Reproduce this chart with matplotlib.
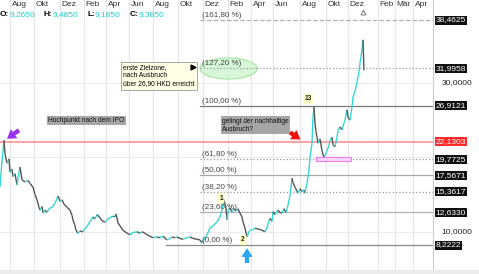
import matplotlib
matplotlib.use('Agg')
import matplotlib.pyplot as plt
import matplotlib.transforms as mtrans
from matplotlib.collections import LineCollection
from matplotlib.patches import Ellipse, Rectangle

plt.rcParams['font.family'] = ['Liberation Sans', 'DejaVu Sans']

# price path (bar position along the time axis, closing price in HKD)
bar_pos = [0, 2, 4, 5, 7, 9, 10, 12, 13, 15, 17, 18, 20, 22, 25, 28, 30, 33, 35, 37,
           39, 40, 42, 43, 45, 47, 49, 52, 55, 57, 58, 60, 62, 64, 67, 70, 72, 73, 75, 76,
           78, 80, 83, 86, 88, 90, 93, 95, 97, 100, 102, 105, 108, 110, 113, 115, 116, 118, 120, 123,
           126, 130, 133, 137, 140, 142, 145, 147, 150, 153, 157, 160, 163, 167, 170, 172, 175, 177, 180, 183,
           187, 190, 193, 197, 200, 202, 205, 207, 210, 213, 217, 220, 222, 223, 224, 226, 227, 228, 230, 232,
           234, 236, 238, 240, 242, 243, 245, 247, 249, 250, 253, 255, 257, 260, 262, 265, 267, 270, 272, 273,
           275, 278, 280, 282, 284, 286, 287, 288, 290, 291, 292, 293, 295, 297, 298, 300, 302, 304, 305, 307,
           309, 310, 312, 313, 314, 315, 316, 317, 318, 320, 322, 324, 326, 327, 329, 330, 332, 333, 335, 337,
           338, 340, 342, 344, 345, 347, 348, 350, 352, 353, 355, 356, 358, 359, 360, 361, 362, 363, 364]
close = [16.0, 19.5, 22.3, 20.5, 19.2, 19.8, 18.0, 18.4, 17.4, 17.8, 16.3, 17.2, 18.7, 17.0, 16.7, 16.9, 16.5, 16.0, 15.0, 14.3,
         13.3, 12.9, 13.4, 12.5, 12.9, 12.6, 13.1, 13.3, 13.8, 14.5, 14.8, 14.1, 14.3, 13.7, 13.3, 12.9, 12.2, 11.6, 10.8, 10.2,
         9.8, 10.1, 10.0, 10.6, 10.9, 11.4, 12.0, 11.7, 12.3, 11.9, 11.5, 11.3, 11.7, 11.9, 12.1, 12.0, 12.4, 11.2, 10.8, 10.2,
         9.9, 9.6, 9.9, 10.0, 9.8, 10.0, 9.8, 9.6, 9.4, 9.2, 9.3, 9.2, 9.4, 8.9, 9.1, 9.3, 9.2, 9.3, 9.1, 9.0,
         9.2, 9.3, 9.1, 9.0, 8.9, 8.5, 9.2, 9.6, 10.5, 10.8, 11.3, 12.0, 13.0, 13.6, 14.3, 13.2, 11.6, 12.8, 13.2, 12.7,
         13.1, 12.8, 13.1, 12.5, 12.0, 11.3, 10.5, 9.3, 10.0, 10.2, 10.3, 10.5, 10.4, 10.3, 10.2, 10.0, 10.6, 11.8, 11.4, 12.7,
         12.3, 12.9, 12.6, 12.5, 13.1, 12.6, 13.0, 13.6, 14.9, 16.0, 17.2, 16.6, 16.0, 15.5, 15.2, 15.8, 15.4, 15.6, 15.2, 16.5,
         18.3, 20.0, 21.9, 25.4, 26.8, 24.6, 23.5, 22.7, 21.9, 22.5, 20.9, 19.9, 20.6, 20.9, 21.6, 22.3, 22.7, 21.7, 21.4, 22.7,
         23.6, 24.1, 23.7, 24.6, 25.0, 26.4, 25.4, 25.0, 26.8, 28.1, 28.9, 29.5, 30.8, 31.5, 32.7, 33.5, 34.5, 35.8, 31.7]

# Fibonacci retracement levels
fib_levels = [38.4625, 31.9958, 26.9121, 19.7725, 17.5671, 15.3617, 12.6330, 8.2222]
fib_labels = ['(161,80 %)', '(127,20 %)', '(100,00 %)', '(61,80 %)', '(50,00 %)',
              '(38,20 %)', '(23,60 %)', '(0,00 %)']
fib_styles = [('--', '#b0b0b0'), (':', '#9a9a9a'), ('-', '#777777'), (':', '#9a9a9a'),
              ('-', '#a8a8a8'), (':', '#9a9a9a'), ('-', '#b0b0b0'), ('-', '#888888')]
ipo_high = 22.1303
grid_prices = [10.0, 20.0, 30.0]
grid_labels = ['30,0000', '10,0000']

month_pos = [10, 34, 60, 84, 106, 129, 153, 178, 203, 228, 251, 273, 300, 326, 348, 378, 395, 413]
month_names = ['Aug', 'Okt', 'Dez', 'Feb', 'Apr', 'Jun', 'Aug', 'Okt', 'Dez', 'Feb', 'Apr', 'Jun',
               'Aug', 'Okt', 'Dez', 'Feb', 'Mär', 'Apr']

ohlc_names = ['O:', 'H:', 'L:', 'C:']
ohlc_values = ['9,2650', '9,4850', '9,1850', '9,3850']

fig = plt.figure(figsize=(4.79, 2.74), dpi=100)
fig.patch.set_facecolor('white')
ax = fig.add_axes([0, 4 / 274, 433 / 479, 270 / 274])

k = 225 / (38.4625 - 8.2222)  # pixels per HKD
ax.set_xlim(0, 433)
ax.set_ylim(8.2222 - 25 / k, 38.4625 + 20 / k)

# grid
for xp in month_pos:
    ax.axvline(xp, color='#e6e6e6', lw=0.8, zorder=0)
for gp in grid_prices:
    ax.axhline(gp, color='#ececec', lw=0.8, zorder=0)
ax.set_xticks([])
ax.set_yticks([])
for s in ['top', 'left', 'bottom']:
    ax.spines[s].set_visible(False)
ax.spines['right'].set_color('#cccccc')

# month labels along the top
for xp, nm in zip(month_pos, month_names):
    ax.text(xp + 1.5, 38.4625 + 15 / k, nm, fontsize=6, color='#333333', ha='left', va='center')

# OHLC readout
ohlc_x = [0, 44, 87, 130]
for xp, nm, val in zip(ohlc_x, ohlc_names, ohlc_values):
    t = ax.text(xp, 38.4625 + 5 / k, nm, fontsize=6, fontweight='bold', color='black', ha='left', va='center')
    ax.annotate(val, xy=(1, 0.5), xycoords=t, fontsize=6, color='#22cccc', ha='left', va='center')

# price line, coloured by direction
segs, cols = [], []
for i in range(len(close) - 1):
    segs.append([(bar_pos[i], close[i]), (bar_pos[i + 1], close[i + 1])])
    cols.append('#33d6d6' if close[i + 1] >= close[i] else '#555555')
ax.add_collection(LineCollection(segs, colors=cols, linewidths=1.0, zorder=3))

# IPO high line
ax.axhline(ipo_high, color='#ff9a9a', lw=1.3, zorder=2)

# Fibonacci lines
for lv, lb, (ls, c) in zip(fib_levels, fib_labels, fib_styles):
    x0 = 166 if lb == '(0,00 %)' else 200
    ax.plot([x0, 433], [lv, lv], ls=ls, color=c, lw=0.9, zorder=2)
    ax.text(202, lv + 1.2 / k, lb, fontsize=5.8, color='#444444', ha='left', va='bottom', zorder=4)

# right-hand price labels
tr = mtrans.blended_transform_factory(ax.transAxes, ax.transData)
for lv in fib_levels:
    ax.text(1.006, lv, f'{lv:.4f}'.replace('.', ','), transform=tr, fontsize=6, color='white',
            ha='left', va='center', clip_on=False,
            bbox=dict(boxstyle='square,pad=0.12', fc='#111111', ec='none'))
ax.text(1.006, ipo_high, f'{ipo_high:.4f}'.replace('.', ','), transform=tr, fontsize=6, color='white',
        ha='left', va='center', clip_on=False,
        bbox=dict(boxstyle='square,pad=0.12', fc='#ff2a2a', ec='none'))
for gp, gl in zip([30.0, 10.0], grid_labels):
    ax.text(1.02, gp, gl, transform=tr, fontsize=6, color='#222222', ha='left', va='center', clip_on=False)

# target zone ellipse and note
ax.add_patch(Ellipse((228.5, 31.94), 57, 2.82, fc='#d4f7d4', ec='#9be39b', lw=0.8, alpha=0.9, zorder=1))
ax.text(123, 32.55, 'erste Zielzone,\nnach Ausbruch\nüber 26,90 HKD erreicht', fontsize=4.8, color='black',
        ha='left', va='top', linespacing=1.25, zorder=5,
        bbox=dict(boxstyle='square,pad=0.35', fc='#ffffe6', ec='#999999', lw=0.6))
ax.plot([193], [32.15], marker='>', color='black', ms=3.5, zorder=6)

# gray comment boxes
ax.text(48, 24.96, 'Hochpunkt nach dem IPO', fontsize=4.8, color='#111111', ha='left', va='center', zorder=5,
        bbox=dict(boxstyle='square,pad=0.2', fc='#a6a6a6', ec='none'))
ax.text(222, 25.35, 'gelingt der nachhaltige\nAusbruch?', fontsize=4.8, color='#111111', ha='left', va='top',
        linespacing=1.3, zorder=5, bbox=dict(boxstyle='square,pad=0.2', fc='#a6a6a6', ec='none'))

# arrows
arrow_kw = dict(arrowstyle='simple,head_width=0.9,head_length=0.7,tail_width=0.35',
                mutation_scale=9, lw=0, shrinkA=0, shrinkB=0)
ax.annotate('', xy=(7, 22.5), xytext=(19, 23.65), arrowprops=dict(color='#9933ee', **arrow_kw), zorder=6)
ax.annotate('', xy=(300.5, 22.4), xytext=(290, 23.35), arrowprops=dict(color='#ee1111', **arrow_kw), zorder=6)
ax.annotate('', xy=(247, 7.8), xytext=(247, 5.8), arrowprops=dict(color='#2aa6f0', **arrow_kw), zorder=6)

# breakout retest box
ax.add_patch(Rectangle((316, 19.45), 35, 0.65, fc='#ffd6ff', ec='#ff55ff', lw=0.8, alpha=0.8, zorder=4))

# wave counts
for xp, yp, lb in [(308, 27.85, '13'), (221, 14.5, '1'), (243, 8.9, '2')]:
    ax.text(xp, yp, lb, fontsize=4.8, fontweight='bold', color='#222222', ha='center', va='center', zorder=6,
            bbox=dict(boxstyle='round,pad=0.25', fc='#ffffc8', ec='none'))

# marker at top
ax.plot([363], [38.4625 + 8 / k], marker='^', ms=3.5, mfc='white', mec='#888888', mew=0.8, zorder=6,
        clip_on=False)

# bottom band
fig.patches.append(Rectangle((0, 0), 1, 4 / 274, transform=fig.transFigure, fc='#ebebeb', ec='none'))

fig.savefig('out.png', dpi=100)
